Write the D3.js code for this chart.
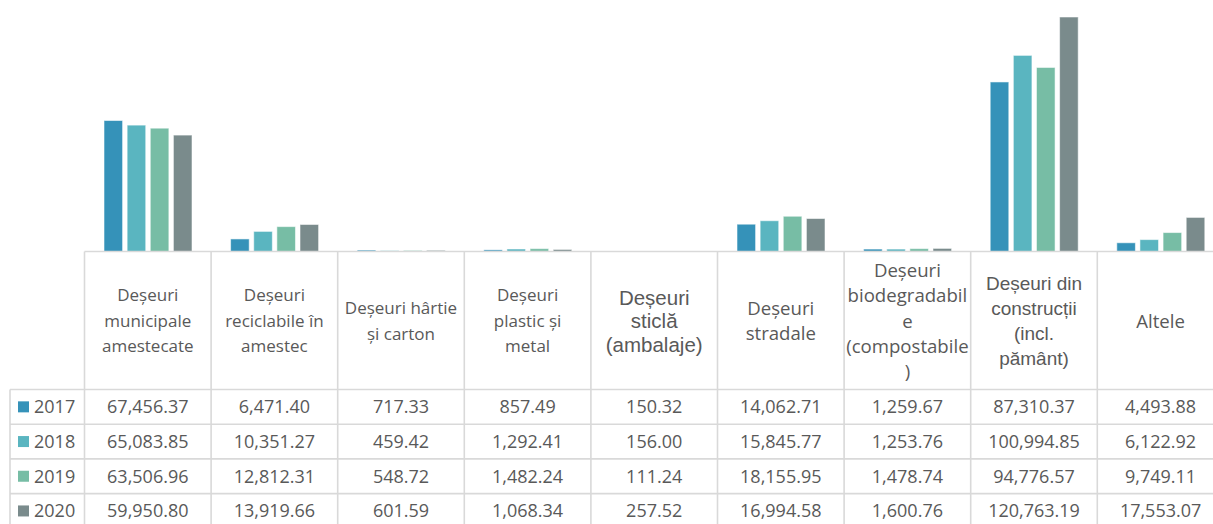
<!DOCTYPE html>
<html>
<head>
<meta charset="utf-8">
<script src="https://cdn.jsdelivr.net/npm/d3@7"></script>
<style>
  html, body { margin: 0; padding: 0; background: #fff; }
  svg { display: block; }
</style>
</head>
<body>
<svg id="chart" width="1213" height="524"></svg>
<script>
// Waste categories (column headers, each split into display lines)
const categories = [
  ["Deșeuri", "municipale", "amestecate"],
  ["Deșeuri", "reciclabile în", "amestec"],
  ["Deșeuri hârtie", "și carton"],
  ["Deșeuri", "plastic și", "metal"],
  ["Deșeuri", "sticlă", "(ambalaje)"],
  ["Deșeuri", "stradale"],
  ["Deșeuri", "biodegradabil", "e", "(compostabile", ")"],
  ["Deșeuri din", "construcții", "(incl.", "pământ)"],
  ["Altele"]
];
// Header font style per column
const headerStyle = ["small", "small", "small", "small", "arialBig", "sans", "sans", "arial", "sans"];

const years = ["2017", "2018", "2019", "2020"];
const colors = ["#3592b9", "#5ab5c0", "#77bda5", "#7a8b8c"];

const v2017 = [67456.37, 6471.40, 717.33, 857.49, 150.32, 14062.71, 1259.67, 87310.37, 4493.88];
const v2018 = [65083.85, 10351.27, 459.42, 1292.41, 156.00, 15845.77, 1253.76, 100994.85, 6122.92];
const v2019 = [63506.96, 12812.31, 548.72, 1482.24, 111.24, 18155.95, 1478.74, 94776.57, 9749.11];
const v2020 = [59950.80, 13919.66, 601.59, 1068.34, 257.52, 16994.58, 1600.76, 120763.19, 17553.07];
const series = [v2017, v2018, v2019, v2020];

const svg = d3.select("#chart");
const gridColor = "#d9d9d9";
const textColor = "#595959";

const tableLeft = 10;      // left edge of the legend column
const colLeft = 84.5;      // left edge of first data column
const colWidth = 126.6;
const baseline = 251.5;    // bar baseline / top of the data table
const headerBottom = 389.5;
const rowH = 34.7;
const plotTop = 17;

const catIdx = d3.range(categories.length);
const x0 = d3.scaleBand().domain(catIdx).range([colLeft, colLeft + colWidth * categories.length]).padding(0);
const x1 = d3.scaleBand().domain(years).range([19.5, 107.5]).paddingInner(0.196).paddingOuter(0);
const y = d3.scaleLinear()
  .domain([0, d3.max(series, s => d3.max(s))])
  .range([baseline, plotTop]);

// Bars
const groups = svg.append("g").selectAll("g")
  .data(catIdx).join("g")
  .attr("transform", i => `translate(${x0(i)},0)`);

groups.selectAll("rect")
  .data(i => years.map((yr, k) => ({ yr, k, v: series[k][i] })))
  .join("rect")
  .attr("x", d => x1(d.yr))
  .attr("width", x1.bandwidth())
  .attr("y", d => y(d.v))
  .attr("height", d => baseline - y(d.v))
  .attr("fill", d => colors[d.k])
  .attr("stroke", "rgba(255,255,255,0.55)")
  .attr("stroke-width", 1);

// Table grid
const grid = svg.append("g").attr("stroke", gridColor).attr("stroke-width", 1.6).attr("fill", "none");
const tableRight = colLeft + colWidth * categories.length;
const rowTops = d3.range(years.length + 1).map(r => headerBottom + r * rowH);

grid.append("line").attr("x1", colLeft).attr("x2", tableRight).attr("y1", baseline).attr("y2", baseline);
rowTops.forEach(ry => {
  grid.append("line").attr("x1", tableLeft).attr("x2", tableRight).attr("y1", ry).attr("y2", ry);
});
grid.append("line").attr("x1", tableLeft).attr("x2", tableLeft)
  .attr("y1", headerBottom).attr("y2", rowTops[rowTops.length - 1]);
d3.range(categories.length + 1).forEach(c => {
  const gx = colLeft + c * colWidth;
  grid.append("line").attr("x1", gx).attr("x2", gx)
    .attr("y1", baseline).attr("y2", rowTops[rowTops.length - 1]);
});

// Header labels
const sansFamily = "'Open Sans', sans-serif";
const arialFamily = "'Liberation Sans', Arial, sans-serif";
const fonts = {
  small:    { family: sansFamily,  size: 17,   lh: 25.5 },
  sans:     { family: sansFamily,  size: 18.6, lh: 25.2 },
  arial:    { family: arialFamily, size: 19,   lh: 25.2 },
  arialBig: { family: arialFamily, size: 20.5, lh: 23.5 }
};

const headerMid = (baseline + headerBottom) / 2 + 0.5;
categories.forEach((lines, i) => {
  const f = fonts[headerStyle[i]];
  const cx = x0(i) + colWidth / 2;
  const t = svg.append("text")
    .attr("text-anchor", "middle")
    .attr("fill", textColor)
    .attr("font-family", f.family)
    .attr("font-size", f.size);
  const startY = headerMid - (lines.length - 1) * f.lh / 2;
  lines.forEach((ln, j) => {
    t.append("tspan")
      .attr("x", cx)
      .attr("y", startY + j * f.lh)
      .attr("dy", "0.35em")
      .text(ln);
  });
});

// Value rows with legend keys
const fmt = d3.format(",.2f");
years.forEach((yr, k) => {
  const cy = rowTops[k] + rowH / 2;
  svg.append("rect")
    .attr("x", 18).attr("y", cy - 5.5)
    .attr("width", 11).attr("height", 11)
    .attr("fill", colors[k]);
  svg.append("text")
    .attr("x", 34).attr("y", cy).attr("dy", "0.36em")
    .attr("fill", textColor)
    .attr("font-family", sansFamily)
    .attr("font-size", 18)
    .text(yr);
  series[k].forEach((v, i) => {
    svg.append("text")
      .attr("x", x0(i) + colWidth / 2).attr("y", cy).attr("dy", "0.36em")
      .attr("text-anchor", "middle")
      .attr("fill", textColor)
      .attr("font-family", sansFamily)
      .attr("font-size", 18)
      .text(fmt(v));
  });
});
</script>
</body>
</html>
